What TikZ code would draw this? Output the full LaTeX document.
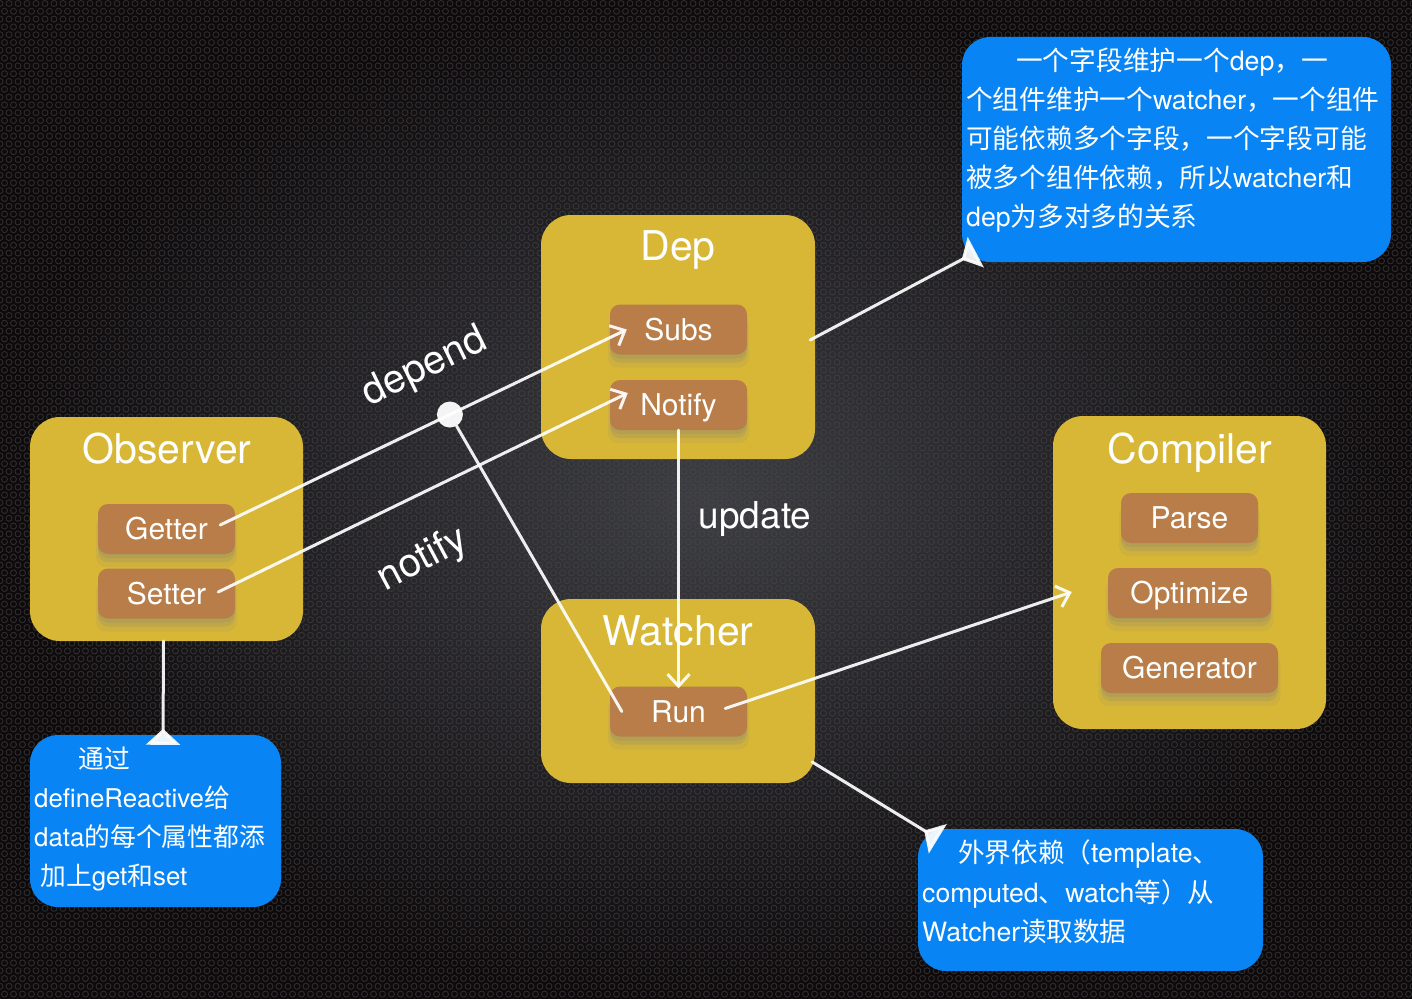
\documentclass[tikz,border=0pt]{standalone}
\usepackage{fontspec}
\setmainfont{TeX Gyre Heros}
\newfontfamily\cjk{Noto Sans CJK SC}
\newcommand\zh[1]{{\cjk #1}}
\usetikzlibrary{arrows.meta,shadows,calc,patterns}
\definecolor{bgin}{RGB}{62,62,66}
\definecolor{bgout}{RGB}{14,10,10}
\definecolor{holerim}{RGB}{70,74,84}
\definecolor{boxyellow}{RGB}{216,183,54}
\definecolor{pillbrown}{RGB}{184,125,72}
\definecolor{noteblue}{RGB}{8,132,245}
\pgfdeclarepatternformonly{holes}{\pgfpoint{-4pt}{-4pt}}{\pgfpoint{13pt}{19.6pt}}{\pgfpoint{9pt}{15.6pt}}{%
  \pgfsetlinewidth{0.9pt}%
  \pgfpathcircle{\pgfpoint{4.5pt}{3.9pt}}{3pt}%
  \pgfpathcircle{\pgfpoint{0pt}{11.7pt}}{3pt}%
  \pgfusepath{stroke}}
\begin{document}
\begin{tikzpicture}[x=1pt,y=-1pt,
  ybox/.style={fill=boxyellow, rounded corners=30pt, draw=none, inner sep=0pt},
  pill/.style={fill=pillbrown, rounded corners=10pt, inner sep=0pt, minimum height=50pt,
    text=white, font=\fontsize{30}{36}\selectfont, text height=21.6pt, text depth=0pt,
    drop shadow={shadow xshift=0pt, shadow yshift=-12pt, shadow scale=1.03, opacity=0.12},
    drop shadow={shadow xshift=0pt, shadow yshift=-8pt, opacity=0.18},
    drop shadow={shadow xshift=0pt, shadow yshift=-4pt, opacity=0.2}},
  titletext/.style={text=white, font=\fontsize{41}{48}\selectfont, inner sep=0pt, anchor=base},
  notebox/.style={fill=noteblue, rounded corners=28pt, draw=none, inner sep=0pt},
  notetxt/.style={text=white, align=left, inner sep=0pt, anchor=north west},
  chalk/.style={draw=white, line width=3pt, opacity=0.92, line cap=round},
  barb/.style={-{Straight Barb[length=12pt,width=22pt,line width=3pt]}},
  tail/.style={-{Triangle[reversed,length=16pt,width=34pt]}},
  lab/.style={text=white, font=\fontsize{40}{46}\selectfont, inner sep=0pt},
  hubdot/.style={circle, fill=white, minimum size=26pt, inner sep=0pt, opacity=0.95}
]
\useasboundingbox (0,0) rectangle (1412,998);
\shade[inner color=bgin, outer color=bgout] (0,0) rectangle (1412,998);
\fill[pattern=holes, pattern color=holerim, opacity=0.55] (0,0) rectangle (1412,998);

% yellow containers
\node[ybox, minimum width=273pt, minimum height=224pt] (observer) at (166.5,529) {};
\node[ybox, minimum width=274pt, minimum height=244pt] (dep) at (678,337) {};
\node[ybox, minimum width=274pt, minimum height=184pt] (watcher) at (678,691) {};
\node[ybox, minimum width=273pt, minimum height=313pt] (compiler) at (1189.5,572.5) {};

\node[titletext] (observerT) at (167,463) {Observer};
\node[titletext] (depT) at (678,260) {Dep};
\node[titletext] (watcherT) at (678,645) {Watcher};
\node[titletext] (compilerT) at (1190,463) {Compiler};

% pills
\node[pill, minimum width=137pt] (getter) at (166.5,529) {Getter};
\node[pill, minimum width=137pt] (setter) at (166.5,593.5) {Setter};
\node[pill, minimum width=137pt] (subs) at (678.5,329.5) {Subs};
\node[pill, minimum width=137pt] (notify) at (678.5,405) {Notify};
\node[pill, minimum width=137pt] (run) at (678.5,711.5) {Run};
\node[pill, minimum width=137pt] (parse) at (1189.5,518) {Parse};
\node[pill, minimum width=163pt] (optimize) at (1189.5,593) {Optimize};
\node[pill, minimum width=177pt] (generator) at (1189.5,668) {Generator};

% blue notes
\node[notebox, minimum width=429pt, minimum height=225pt] (noteTR) at (1176.5,149.5) {};
\node[notebox, minimum width=251pt, minimum height=172pt] (noteBL) at (155.5,821) {};
\node[notebox, minimum width=345pt, minimum height=142pt] (noteBR) at (1090.5,900) {};

\node[notetxt, font=\fontsize{26.7}{39}\selectfont] (noteTRt) at (966,48)
  {\hspace*{50pt}\zh{一个字段维护一个}dep\zh{，一}\\
   \zh{个组件维护一个}watcher\zh{，一个组件}\\
   \zh{可能依赖多个字段，一个字段可能}\\
   \zh{被多个组件依赖，所以}watcher\zh{和}\\
   dep\zh{为多对多的关系}};
\node[notetxt, font=\fontsize{25.8}{39}\selectfont] (noteBLt) at (34,747)
  {\hspace*{44pt}\zh{通过}\\
   defineReactive\zh{给}\\
   data\zh{的每个属性都添}\\
   \hspace*{6pt}\zh{加上}get\zh{和}set};
\node[notetxt, font=\fontsize{26.6}{39.5}\selectfont] (noteBRt) at (922,840)
  {\hspace*{36pt}\zh{外界依赖（}template\zh{、}\\
   computed\zh{、}watch\zh{等）从}\\
   Watcher\zh{读取数据}};

% connectors
\coordinate (gS) at ($(getter.east)+(-15,-4)$);
\coordinate (sE) at ($(subs.west)+(17,0)$);
\draw[chalk, barb] (gS) -- (sE);
\node[hubdot] (hub) at ($(gS)!0.565!(sE)$) {};
\draw[chalk] (hub) -- ($(run.west)+(12,0)$);

\draw[chalk, barb] ($(setter.east)+(-17,-1.5)$) -- ($(notify.west)+(18,-12)$);
\draw[chalk, barb] (notify.south) -- ($(run.north)+(0,2)$);
\draw[chalk, barb] ($(run.east)+(-22,-3)$) -- ($(compiler.west)+(19,19.5)$);

\draw[chalk, tail] ($(dep.east)+(-5,3)$) -- ($(noteTR.south west)+(14,-10)$);
\draw[chalk, tail] ($(observer.south)+(-3,0)$) -- ($(noteBL.north)+(7.5,10)$);
\draw[chalk, tail] ($(watcher.east)+(-3,71)$) -- ($(noteBR.north west)+(20,10)$);

% labels
\node[lab, rotate=26] (dependL) at (425,368) {depend};
\node[lab, rotate=28] (notifyL) at (423,560) {notify};
\node[lab, font=\fontsize{37}{44}\selectfont] (updateL) at (755,519) {update};
\end{tikzpicture}
\end{document}
